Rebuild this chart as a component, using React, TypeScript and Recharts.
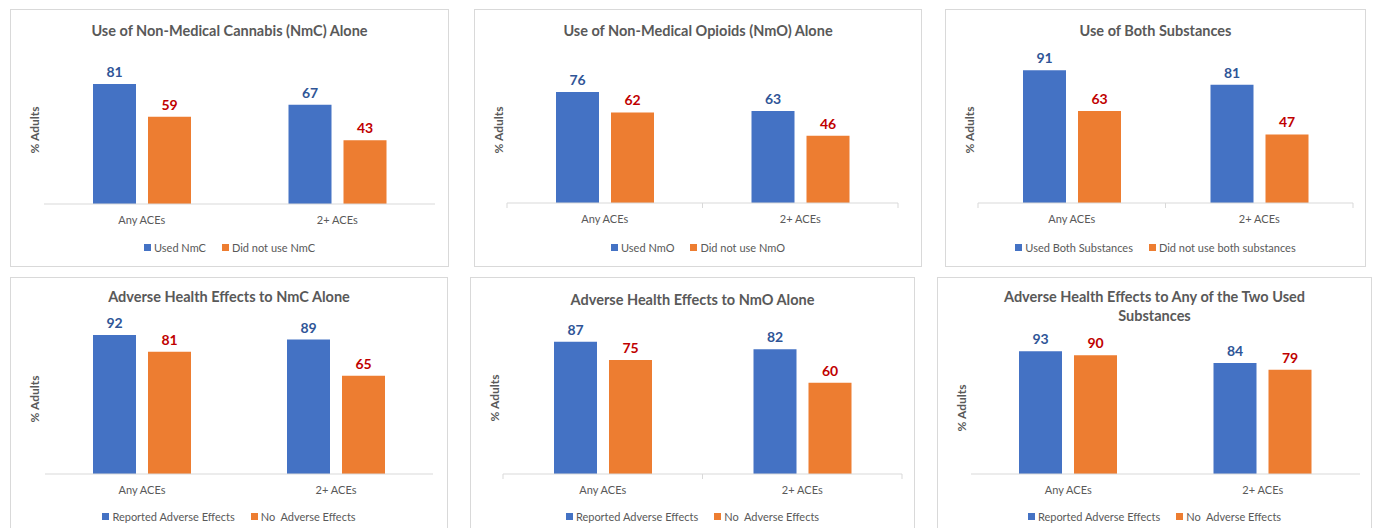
import React from 'react';
import { Bar, BarChart, LabelList, XAxis, YAxis } from 'recharts';

const categories = ['Any ACEs', '2+ ACEs'];

const nmcUsed = [81, 67];
const nmcNotUsed = [59, 43];
const nmoUsed = [76, 63];
const nmoNotUsed = [62, 46];
const bothUsed = [91, 81];
const bothNotUsed = [63, 47];
const nmcAdverse = [92, 89];
const nmcNoAdverse = [81, 65];
const nmoAdverse = [87, 82];
const nmoNoAdverse = [75, 60];
const anyAdverse = [93, 84];
const anyNoAdverse = [90, 79];

const FONT = 'Lato, "Liberation Sans", sans-serif';
const GRAY = '#595959';
const BLUE = '#4472C4';
const ORANGE = '#ED7D31';
const BLUE_LABEL = '#2F5597';
const RED_LABEL = '#C00000';
const XAXIS_H = 30;

type PanelDef = {
    left: number;
    top: number;
    width: number;
    plotLeft: number;
    plotRight: number;
    y100: number;
    axisY: number;
    titleY: number;
    legendY: number;
    title: string[];
    names: [string, string];
    a: number[];
    b: number[];
    ticks: boolean;
};

const PANEL_H = 258;

const panels: PanelDef[] = [
    { left: 10, top: 9, width: 439, plotLeft: 44, plotRight: 435, y100: 56, axisY: 204, titleY: 31, legendY: 247,
      title: ['Use of Non-Medical Cannabis (NmC) Alone'], names: ['Used NmC', 'Did not use NmC'], a: nmcUsed, b: nmcNotUsed, ticks: false },
    { left: 474, top: 9, width: 448, plotLeft: 507, plotRight: 898, y100: 57, axisY: 203, titleY: 31, legendY: 247,
      title: ['Use of Non-Medical Opioids (NmO) Alone'], names: ['Used NmO', 'Did not use NmO'], a: nmoUsed, b: nmoNotUsed, ticks: true },
    { left: 945, top: 9, width: 421, plotLeft: 978, plotRight: 1353, y100: 57, axisY: 203, titleY: 31, legendY: 247,
      title: ['Use of Both Substances'], names: ['Used Both Substances', 'Did not use both substances'], a: bothUsed, b: bothNotUsed, ticks: true },
    { left: 10, top: 277, width: 438, plotLeft: 45, plotRight: 433, y100: 323, axisY: 474, titleY: 297, legendY: 516,
      title: ['Adverse Health Effects to NmC Alone'], names: ['Reported Adverse Effects', 'No  Adverse Effects'], a: nmcAdverse, b: nmcNoAdverse, ticks: false },
    { left: 470, top: 277, width: 445, plotLeft: 503, plotRight: 902, y100: 322, axisY: 474, titleY: 300, legendY: 516,
      title: ['Adverse Health Effects to NmO Alone'], names: ['Reported Adverse Effects', 'No  Adverse Effects'], a: nmoAdverse, b: nmoNoAdverse, ticks: true },
    { left: 937, top: 277, width: 435, plotLeft: 971, plotRight: 1360, y100: 342, axisY: 474, titleY: 297, legendY: 516,
      title: ['Adverse Health Effects to Any of the Two Used', 'Substances'], names: ['Reported Adverse Effects', 'No  Adverse Effects'], a: anyAdverse, b: anyNoAdverse, ticks: false },
];

const makeTick = (band: number, showTicks: boolean) => (props: any) => {
    const { x, y, payload } = props;
    return (
        <g>
            {showTicks && (
                <>
                    <line x1={x - band / 2} x2={x - band / 2} y1={y} y2={y + 5} stroke="#D9D9D9" />
                    <line x1={x + band / 2} x2={x + band / 2} y1={y} y2={y + 5} stroke="#D9D9D9" />
                </>
            )}
            <text x={x} y={y + 20} textAnchor="middle" fill={GRAY} fontSize={11} fontFamily={FONT}>
                {payload.value}
            </text>
        </g>
    );
};

const Panel = ({ p }: { p: PanelDef }) => {
    const data = categories.map((c, i) => ({ name: c, a: p.a[i], b: p.b[i] }));
    const band = (p.plotRight - p.plotLeft) / categories.length;
    const plotMid = (p.y100 + p.axisY) / 2 - p.top;
    return (
        <div
            style={{
                position: 'absolute',
                left: p.left,
                top: p.top,
                width: p.width,
                height: PANEL_H,
                outline: '1px solid #D9D9D9',
                outlineOffset: -1,
                background: '#fff',
                fontFamily: FONT,
            }}
        >
            {p.title.map((t, i) => (
                <div
                    key={t}
                    style={{
                        position: 'absolute',
                        left: 0,
                        width: p.width,
                        top: p.titleY - p.top - 10 + i * 19,
                        height: 20,
                        lineHeight: '20px',
                        textAlign: 'center',
                        fontSize: 14.5,
                        fontWeight: 'bold',
                        color: GRAY,
                    }}
                >
                    {t}
                </div>
            ))}
            <div
                style={{
                    position: 'absolute',
                    left: 24,
                    top: plotMid,
                    transform: 'translate(-50%, -50%) rotate(-90deg)',
                    whiteSpace: 'nowrap',
                    fontSize: 12,
                    fontWeight: 'bold',
                    color: GRAY,
                }}
            >
                % Adults
            </div>
            <div style={{ position: 'absolute', left: 0, top: 0 }}>
                <BarChart
                    width={p.width}
                    height={PANEL_H}
                    data={data}
                    barSize={43}
                    barGap={12}
                    margin={{
                        top: p.y100 - p.top,
                        bottom: p.top + PANEL_H - p.axisY - XAXIS_H,
                        left: p.plotLeft - p.left,
                        right: p.left + p.width - p.plotRight,
                    }}
                >
                    <XAxis
                        dataKey="name"
                        height={XAXIS_H}
                        axisLine={{ stroke: '#D9D9D9' }}
                        tickLine={false}
                        tickSize={0}
                        tickMargin={0}
                        interval={0}
                        tick={makeTick(band, p.ticks)}
                    />
                    <YAxis hide domain={[0, 100]} />
                    <Bar dataKey="a" fill={BLUE} isAnimationActive={false}>
                        <LabelList dataKey="a" position="top" offset={7} fill={BLUE_LABEL} fontSize={14} fontWeight="bold" fontFamily={FONT} />
                    </Bar>
                    <Bar dataKey="b" fill={ORANGE} isAnimationActive={false}>
                        <LabelList dataKey="b" position="top" offset={7} fill={RED_LABEL} fontSize={14} fontWeight="bold" fontFamily={FONT} />
                    </Bar>
                </BarChart>
            </div>
            <div
                style={{
                    position: 'absolute',
                    left: 0,
                    width: p.width,
                    top: p.legendY - p.top - 8,
                    height: 16,
                    display: 'flex',
                    justifyContent: 'center',
                    alignItems: 'center',
                    gap: 16,
                    fontSize: 11,
                    color: GRAY,
                }}
            >
                {p.names.map((n, i) => (
                    <div key={n} style={{ display: 'flex', alignItems: 'center', whiteSpace: 'pre' }}>
                        <span style={{ display: 'inline-block', width: 7, height: 7, background: i === 0 ? BLUE : ORANGE, marginRight: 3 }} />
                        {n}
                    </div>
                ))}
            </div>
        </div>
    );
};

export default function App() {
    return (
        <div style={{ position: 'absolute', left: 0, top: 0, width: 1373, height: 528, overflow: 'hidden', background: '#fff' }}>
            {panels.map((p) => (
                <Panel key={p.title[0]} p={p} />
            ))}
        </div>
    );
}
